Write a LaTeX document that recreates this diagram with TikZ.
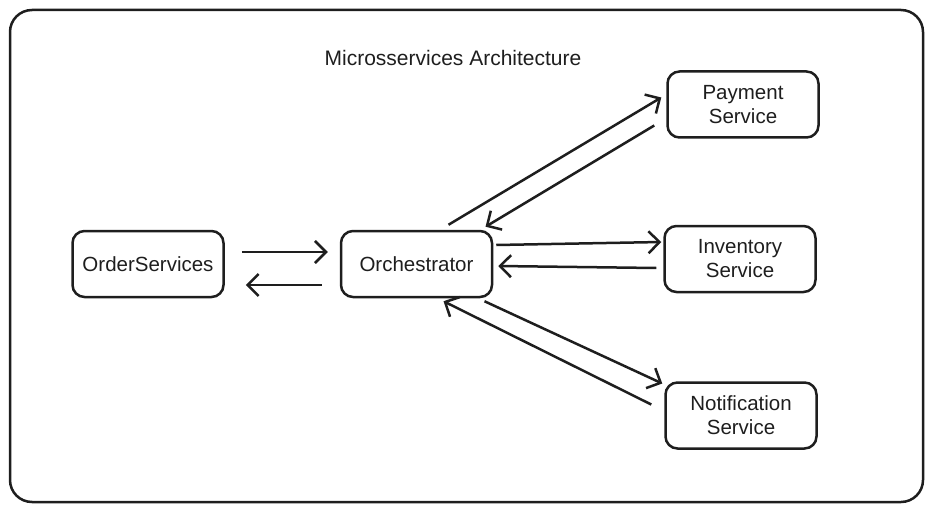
\documentclass[tikz,border=0pt]{standalone}
\usepackage{fontspec}
\setmainfont{Liberation Sans}
\usetikzlibrary{positioning, calc, arrows.meta}

\definecolor{ink}{HTML}{1E1E1E}
\tikzset{
  box/.style={draw=ink, line width=2.5pt, rounded corners=12pt, minimum width=151pt, minimum height=66pt, align=center, font=\fontsize{20.5}{24}\selectfont, text=ink},
  arr/.style={draw=ink, line width=2.5pt, -{Straight Barb[length=11pt, width=22pt, line width=2.5pt]}}
}

\begin{document}
\begin{tikzpicture}[x=1pt, y=-1pt]
        \useasboundingbox (0,0) rectangle (933,513);
        \draw[ink, line width=2.5pt, rounded corners=22pt] (10,10) rectangle (923,502);

        \node[text=ink, font=\fontsize{21}{24}\selectfont] (title) at (453,58) {Microsservices Architecture};

        \node[box] (order) at (148,264) {OrderServices};
        \node[box, right=115pt of order] (orch) {Orchestrator};
        \node[box, right=170pt of orch, yshift=5pt] (inv) {Inventory\\Service};
        \node[box, above=86pt of inv, xshift=3pt] (pay) {Payment\\Service};
        \node[box, below=88pt of inv, xshift=1pt] (notif) {Notification\\Service};

        \draw[arr] ($(order.east)+(17,-12)$) -- ($(orch.west)+(-12,-12)$);
        \draw[arr] ($(orch.west)+(-18,21)$) -- ($(order.east)+(21,21)$);

        \draw[arr] ($(orch.north)+(32,-5)$) -- ($(pay.west)+(-5,-7)$);
        \draw[arr] ($(pay.west)+(-12,21)$) -- ($(orch.north)+(69,-3)$);

        \draw[arr] ($(orch.east)+(3,-19)$) -- ($(inv.west)+(-2,-17)$);
        \draw[arr] ($(inv.west)+(-7,9)$) -- ($(orch.east)+(5,2)$);

        \draw[arr] ($(orch.south)+(68,3)$) -- ($(notif.west)+(-2,-32)$);
        \draw[arr] ($(notif.west)+(-13,-11)$) -- ($(orch.south)+(27,3)$);
\end{tikzpicture}
\end{document}
